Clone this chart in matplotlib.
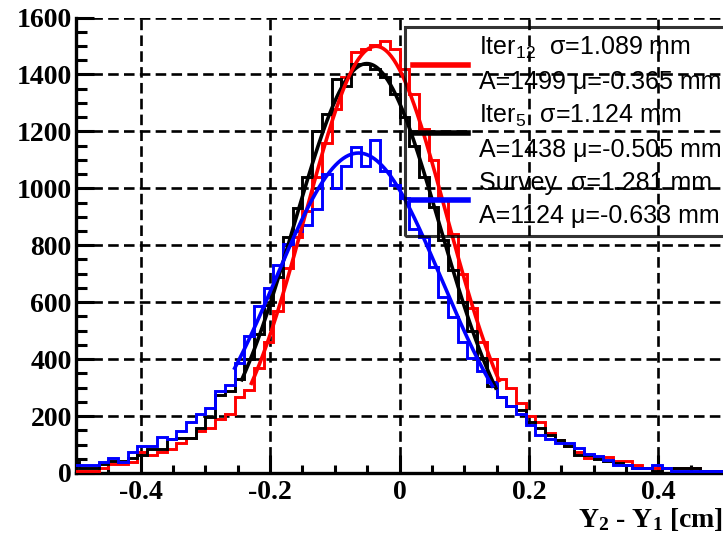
import matplotlib
matplotlib.use('Agg')
import matplotlib.pyplot as plt
from matplotlib.lines import Line2D
import numpy as np

# bin edges of the Y2 - Y1 residual histograms [cm]
bin_edges = np.linspace(-0.51, 0.51, 69)

# entries per bin
iter12 = [8, 8, 8, 17, 30, 30, 40, 73, 63, 75,
          83, 106, 124, 148, 157, 188, 209, 268, 291, 370,
          460, 570, 720, 830, 920, 1040, 1160, 1280, 1390, 1478,
          1490, 1502, 1519, 1490, 1420, 1330, 1210, 1100, 960, 840,
          700, 580, 461, 402, 330, 297, 245, 201, 178, 140,
          116, 95, 75, 52, 52, 55, 42, 42, 28, 17,
          17, 17, 17, 17, 16, 5, 5, 5]
iter5 = [40, 16, 16, 32, 42, 42, 51, 63, 83, 83,
         118, 122, 122, 159, 198, 274, 289, 330, 400, 490,
         590, 690, 830, 930, 1040, 1200, 1262, 1385, 1360, 1438,
         1438, 1420, 1390, 1330, 1250, 1150, 1040, 934, 820, 712,
         600, 500, 405, 305, 268, 235, 221, 180, 157, 135,
         116, 95, 63, 63, 50, 42, 35, 28, 17, 17,
         8, 16, 16, 16, 16, 8, 8, 8]
survey = [28, 28, 28, 40, 52, 40, 75, 95, 95, 127,
          119, 148, 180, 209, 227, 289, 309, 385, 480, 586,
          650, 730, 806, 850, 870, 929, 1049, 1000, 1077, 1145,
          1080, 1168, 1060, 1010, 965, 856, 830, 724, 619, 548,
          461, 403, 360, 320, 268, 235, 209, 168, 133, 118,
          104, 104, 87, 67, 60, 46, 28, 28, 16, 16,
          28, 16, 8, 8, 8, 8, 8, 8]

# gaussian fit results (A, mean [mm], sigma [mm]) and fit range [cm]
names = ['Iter$_{12}$', 'Iter$_{5}$', 'Survey']
amps = [1499, 1438, 1124]
means = [-0.365, -0.505, -0.633]
sigmas = [1.089, 1.124, 1.281]
fit_lo = [-0.23, -0.245, -0.256]
fit_hi = [0.155, 0.15, 0.145]
colors = ['#ff0000', '#000000', '#0000ff']

plt.rcParams['font.family'] = ['Liberation Serif', 'DejaVu Serif']
plt.rcParams['font.weight'] = 'bold'
plt.rcParams['axes.unicode_minus'] = False
plt.rcParams['mathtext.default'] = 'regular'

fig = plt.figure(figsize=(7.23, 5.36), dpi=100, facecolor='w')
ax = fig.add_axes([76 / 723, 63 / 536, 647 / 723, 455.5 / 536])

# histograms
for vals, c in zip([iter12, iter5, survey], colors):
    ax.stairs(vals, bin_edges, color=c, lw=2.1, zorder=3)

# fitted gaussians
for i in [1, 0, 2]:
    x = np.linspace(fit_lo[i], fit_hi[i], 300)
    mu = means[i] / 10.0
    s = sigmas[i] / 10.0
    y = amps[i] * np.exp(-(x - mu) ** 2 / (2 * s ** 2))
    ax.plot(x, y, color=colors[i], lw=2.6, zorder=4, solid_capstyle='butt')

ax.set_xlim(-0.5, 0.5)
ax.set_ylim(0, 1600)
ax.set_xticks([-0.4, -0.2, 0, 0.2, 0.4])
ax.set_xticklabels(['-0.4', '-0.2', '0', '0.2', '0.4'])
ax.set_xticks(np.arange(-0.45, 0.5, 0.05), minor=True)
ax.set_yticks(np.arange(0, 1601, 200))
ax.set_yticks(np.arange(0, 1601, 50), minor=True)

ax.tick_params(which='both', direction='in', top=False, right=False,
               labelsize=20, width=2.2)
ax.tick_params(axis='y', which='major', length=13, pad=3)
ax.tick_params(axis='y', which='minor', length=8)
ax.tick_params(axis='x', which='major', length=13, pad=5)
ax.tick_params(axis='x', which='minor', length=6)

ax.grid(True, which='major', color='k', linestyle=(0, (4, 2)), linewidth=1.9, zorder=1)
ax.set_axisbelow(True)

for side in ['top', 'right']:
    ax.spines[side].set_visible(False)
for side in ['left', 'bottom']:
    ax.spines[side].set_linewidth(2.4)

ax.set_xlabel('Y$_2$ - Y$_1$ [cm]', fontsize=20, fontweight='bold', loc='right')
ax.xaxis.set_label_coords(1.0, -0.072)

# legend: two lines per entry, open box so the grid shows through;
# the box runs past the right edge of the picture like in the original
handles = [Line2D([], [], color=c, lw=4) for c in colors]
labels = [names[i] + '  σ=%.3f mm\nA=%d μ=%.3f mm' % (sigmas[i], amps[i], means[i])
          for i in range(3)]
leg_top = 1 - 27 / 536
leg = ax.legend(handles, labels, loc='upper left', mode='expand',
                bbox_to_anchor=(405 / 723, leg_top - 0.4, 345 / 723, 0.4),
                bbox_transform=fig.transFigure,
                prop={'family': 'Liberation Sans', 'size': 18, 'weight': 'normal'},
                frameon=True, fancybox=False, facecolor='none', edgecolor='k',
                borderpad=0.3, labelspacing=0.34, handlelength=2.2,
                handletextpad=0.45, borderaxespad=0)
leg.get_frame().set_linewidth(2.2)
for t in leg.get_texts():
    t.set_linespacing(1.5)

plt.savefig('out.png', dpi=100)
